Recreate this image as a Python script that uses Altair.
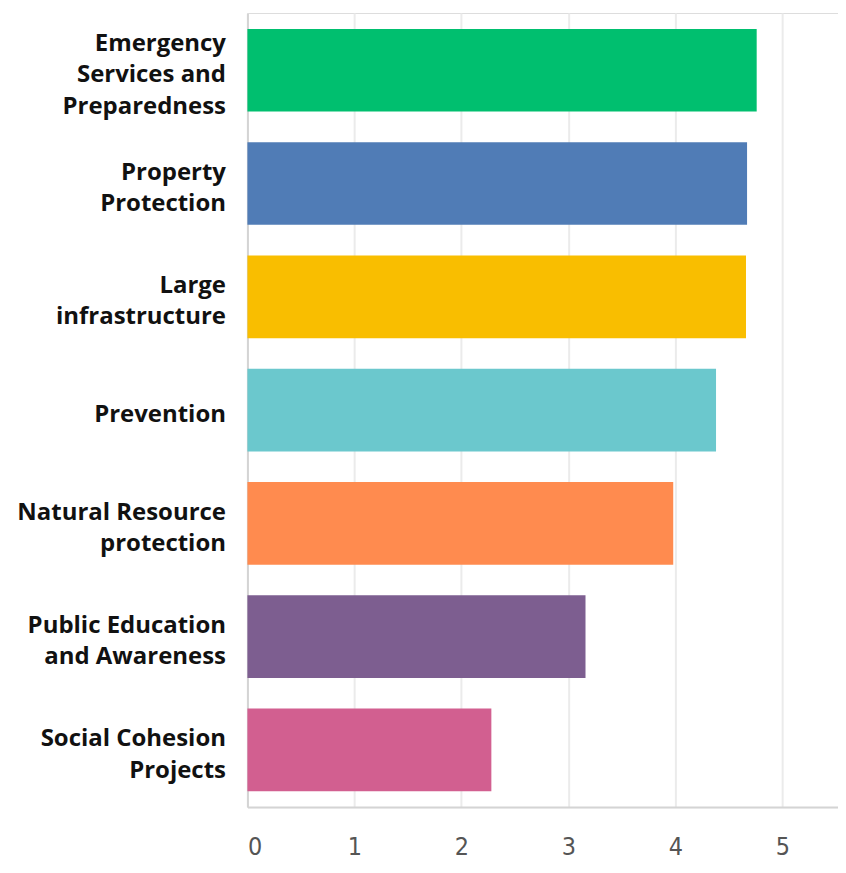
import altair as alt
import pandas as pd

categories = [
    "Emergency|Services and|Preparedness",
    "Property|Protection",
    "Large|infrastructure",
    "Prevention",
    "Natural Resource|protection",
    "Public Education|and Awareness",
    "Social Cohesion|Projects",
]
values = [4.76, 4.67, 4.66, 4.38, 3.98, 3.16, 2.28]
colors = ["#00BF6F", "#507CB6", "#F9BE00", "#6BC8CD", "#FF8B4F", "#7D5E90", "#D25F90"]
tick_values = [0, 1, 2, 3, 4, 5]

df = pd.DataFrame({"category": categories, "value": values})

chart = alt.Chart(df).mark_bar().encode(
    y=alt.Y(
        "category:N",
        sort=None,
        title=None,
        scale=alt.Scale(paddingInner=0.27, paddingOuter=0.14),
        axis=alt.Axis(
            labelExpr="split(datum.label, '|')",
            labelFont="Open Sans",
            labelFontWeight="bold",
            labelFontSize=24,
            labelLineHeight=31.5,
            labelColor="#111111",
            labelPadding=22,
            labelLimit=400,
            labelOffset={"expr": "-(length(split(datum.value, '|')) - 1) * 15.75 + 5"},
            ticks=False,
            domain=True,
            domainColor="#d4d4d4",
            domainWidth=2,
            grid=False,
        ),
    ),
    x=alt.X(
        "value:Q",
        title=None,
        scale=alt.Scale(domain=[0, 5.52], nice=False, zero=True),
        axis=alt.Axis(
            values=tick_values,
            labelFont="DejaVu Sans Condensed, Roboto, sans-serif",
            labelFontSize=25,
            labelColor="#555555",
            labelPadding=28,
            ticks=False,
            domain=True,
            domainColor="#d4d4d4",
            domainWidth=2,
            grid=True,
            gridColor="#ebebeb",
            gridWidth=2,
        ),
    ),
    color=alt.Color(
        "category:N",
        sort=None,
        scale=alt.Scale(domain=categories, range=colors),
        legend=None,
    ),
).properties(
    width=592,
    height=796,
    autosize=alt.AutoSizeParams(type="none"),
    padding={"left": 240, "top": 4, "right": 0, "bottom": 60},
).configure_view(stroke="#ffffff", strokeWidth=2, fill="#ffffff").configure(background="white")

chart.save("out.html", embed_options={"renderer": "svg", "actions": False})
